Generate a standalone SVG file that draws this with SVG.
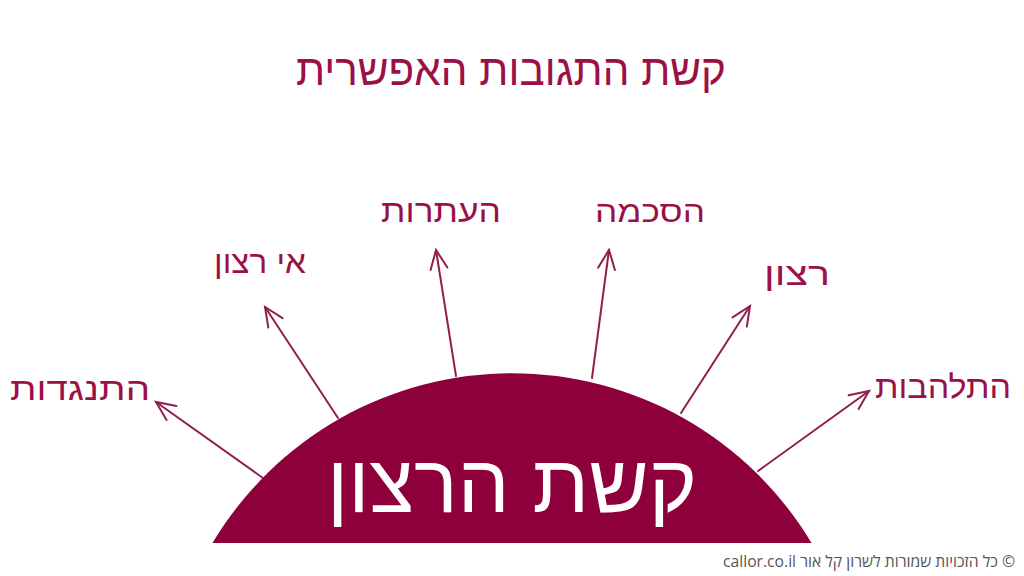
<svg xmlns="http://www.w3.org/2000/svg" width="1024" height="576" viewBox="0 0 1024 576">
<style>
.lbl{font-family:"Liberation Sans","DejaVu Sans",sans-serif;fill:#9C1048;text-anchor:middle}
.arr{stroke:#8E1F4C;stroke-width:2;fill:none;stroke-linecap:round}
</style>
<defs>
<marker id="ah" markerUnits="userSpaceOnUse" markerWidth="30" markerHeight="30" viewBox="-25 -15 30 30" refX="0" refY="0" orient="auto">
<path d="M-19,-8.5 L0,0 L-19,8.5" fill="none" stroke="#8E1F4C" stroke-width="2" stroke-linecap="round"/>
</marker>
</defs>
<rect width="1024" height="576" fill="#ffffff"/>
<g id="title"><text class="lbl" x="511" y="85" font-size="44" textLength="430" lengthAdjust="spacingAndGlyphs">קשת התגובות האפשרית</text></g>
<g id="connectors">
<line class="arr" x1="263" y1="478" x2="156" y2="402" marker-end="url(#ah)"/>
<line class="arr" x1="338" y1="418" x2="265" y2="307" marker-end="url(#ah)"/>
<line class="arr" x1="456" y1="376" x2="436" y2="250" marker-end="url(#ah)"/>
<line class="arr" x1="592" y1="378" x2="609" y2="250" marker-end="url(#ah)"/>
<line class="arr" x1="681" y1="413" x2="750" y2="306" marker-end="url(#ah)"/>
<line class="arr" x1="758" y1="471" x2="869" y2="391" marker-end="url(#ah)"/>
</g>
<g id="dome">
<path d="M212.5,543 A349,349 0 0,1 811.5,543 Z" fill="#8D003C"/>
<text x="512" y="512" font-size="82" fill="#ffffff" text-anchor="middle" font-family="Liberation Sans,DejaVu Sans,sans-serif" textLength="370" lengthAdjust="spacingAndGlyphs">קשת הרצון</text>
</g>
<g id="n-opposition"><text class="lbl" x="80" y="400" font-size="32" textLength="140" lengthAdjust="spacingAndGlyphs">התנגדות</text></g>
<g id="n-unwilling"><text class="lbl" x="260" y="273" font-size="32" textLength="92" lengthAdjust="spacingAndGlyphs">אי רצון</text></g>
<g id="n-compliance"><text class="lbl" x="441" y="222" font-size="32" textLength="120" lengthAdjust="spacingAndGlyphs">העתרות</text></g>
<g id="n-agreement"><text class="lbl" x="650" y="222" font-size="30" textLength="110" lengthAdjust="spacingAndGlyphs">הסכמה</text></g>
<g id="n-willing"><text class="lbl" x="797" y="285" font-size="32" textLength="66" lengthAdjust="spacingAndGlyphs">רצון</text></g>
<g id="n-enthusiasm"><text class="lbl" x="943" y="398" font-size="32" textLength="136" lengthAdjust="spacingAndGlyphs">התלהבות</text></g>
<g id="footer"><text x="1015" y="567" font-size="16" fill="#555555" text-anchor="end" font-family="Open Sans,Liberation Sans,DejaVu Sans,sans-serif" textLength="292" lengthAdjust="spacingAndGlyphs">callor.co.il  כל הזכויות שמורות לשרון קל אור ©</text></g>
</svg>
